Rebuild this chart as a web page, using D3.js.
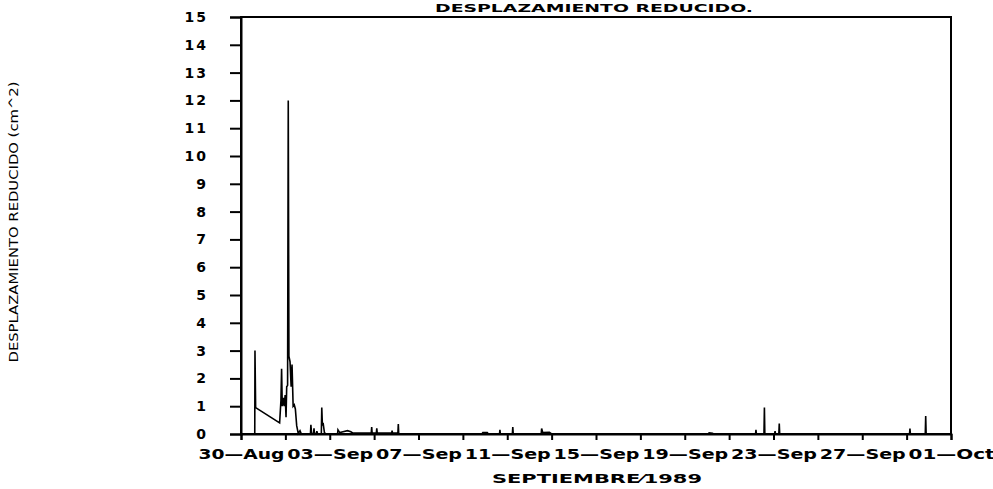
<!DOCTYPE html>
<html><head><meta charset="utf-8">
<script src="https://cdn.jsdelivr.net/npm/d3@7"></script>
<style>
body{margin:0;background:#fff;}
svg{display:block;}
</style></head>
<body>
<svg id="c" width="993" height="489"></svg>
<script>
// ---- data ----
const times = [
"1989-08-30T14:53","1989-08-30T15:07","1989-08-30T15:50",
"1989-08-31T17:46","1989-08-31T19:12","1989-08-31T19:55","1989-08-31T20:38","1989-08-31T21:50","1989-08-31T22:48","1989-08-31T23:46",
"1989-09-01T00:43","1989-09-01T01:26","1989-09-01T02:24","1989-09-01T03:07","1989-09-01T03:50","1989-09-01T05:02","1989-09-01T06:14",
"1989-09-01T07:12","1989-09-01T08:24","1989-09-01T09:36","1989-09-01T10:48","1989-09-01T12:14","1989-09-01T13:55","1989-09-01T15:50","1989-09-01T17:17",
"1989-09-02T03:07","1989-09-02T03:36","1989-09-02T04:19","1989-09-02T06:29","1989-09-02T06:58","1989-09-02T07:26","1989-09-02T09:36","1989-09-02T10:05",
"1989-09-02T10:48","1989-09-02T14:53","1989-09-02T15:22","1989-09-02T16:05","1989-09-02T16:48","1989-09-02T18:14","1989-09-02T19:55",
"1989-09-03T08:24","1989-09-03T08:53","1989-09-03T10:48","1989-09-03T14:24","1989-09-03T19:12","1989-09-03T22:48",
"1989-09-04T01:12","1989-09-04T20:53","1989-09-04T21:22","1989-09-04T21:50",
"1989-09-05T02:24","1989-09-05T02:53","1989-09-05T03:22","1989-09-05T18:58","1989-09-05T19:26","1989-09-05T19:55",
"1989-09-06T01:41","1989-09-06T02:10","1989-09-06T02:38",
"1989-09-09T20:38","1989-09-09T21:36","1989-09-10T02:24","1989-09-10T03:36","1989-09-10T15:36","1989-09-10T16:05","1989-09-10T16:34",
"1989-09-11T05:31","1989-09-11T06:00","1989-09-11T06:29",
"1989-09-12T12:43","1989-09-12T13:12","1989-09-12T14:24","1989-09-12T21:36","1989-09-13T00:00",
"1989-09-20T01:12","1989-09-20T02:24","1989-09-20T06:00","1989-09-20T07:12",
"1989-09-22T04:34","1989-09-22T05:02","1989-09-22T05:31","1989-09-22T13:41","1989-09-22T14:10","1989-09-22T14:38",
"1989-09-23T01:12","1989-09-23T01:41","1989-09-23T02:10","1989-09-23T05:46","1989-09-23T06:14","1989-09-23T06:43",
"1989-09-29T03:07","1989-09-29T03:36","1989-09-29T04:05","1989-09-29T20:10","1989-09-29T20:38","1989-09-29T21:07",
"1989-09-30T12:00"
];
const values = [
0,3.0,0.95,
0.40,1.2,2.35,1.0,1.3,1.0,1.4,
0.6,1.7,1.75,12.0,2.8,2.6,1.7,
2.5,1.0,1.05,0.9,0.3,0.02,0.12,0,
0,0.33,0.02,0.02,0.2,0.02,0.02,0.1,
0,0,0.95,0.3,0.4,0.05,0,
0,0.15,0.05,0.08,0.12,0.08,
0.03,0.03,0.25,0.03,
0.03,0.2,0.03,0.03,0.12,0.03,
0.03,0.36,0,
0,0.05,0.05,0,0,0.15,0,
0,0.25,0,
0,0.2,0.05,0.06,0,
0,0.04,0.03,0,
0,0.15,0,0,0.95,0,
0,0.1,0,0,0.38,0,
0,0.2,0,0,0.65,0,
0
];
const xTickDates = ["1989-08-30","1989-09-01","1989-09-03","1989-09-05","1989-09-07","1989-09-09","1989-09-11","1989-09-13","1989-09-15",
"1989-09-17","1989-09-19","1989-09-21","1989-09-23","1989-09-25","1989-09-27","1989-09-29","1989-10-01"];
const xLabelDates = ["1989-08-30","1989-09-03","1989-09-07","1989-09-11","1989-09-15","1989-09-19","1989-09-23","1989-09-27","1989-10-01"];
const xLabels = ["30\u2014Aug","03\u2014Sep","07\u2014Sep","11\u2014Sep","15\u2014Sep","19\u2014Sep","23\u2014Sep","27\u2014Sep","01\u2014Oct"];
const yTicks = [0,1,2,3,4,5,6,7,8,9,10,11,12,13,14,15];
const titleText = "DESPLAZAMIENTO REDUCIDO.";
const xTitle = "SEPTIEMBRE\u20441989";
const yTitle = "DESPLAZAMIENTO REDUCIDO (cm^2)";

// ---- chart ----
const parse = d3.timeParse("%Y-%m-%dT%H:%M");
const pday = d3.timeParse("%Y-%m-%d");
const data = times.map((t,i)=>({t:parse(t), v:values[i]}));
const svg = d3.select("#c");
svg.append("rect").attr("width",993).attr("height",489).attr("fill","#fff");

const L=241, R=951, T=17, B=434;
const x = d3.scaleTime().domain([pday("1989-08-30"), pday("1989-10-01")]).range([L,R]);
const y = d3.scaleLinear().domain([0,15]).range([B,T]);
const font = "'DejaVu Sans', Verdana, sans-serif";

// data line
svg.append("path").datum(data)
  .attr("fill","none").attr("stroke","#000").attr("stroke-width",1.6)
  .attr("stroke-linejoin","miter")
  .attr("d", d3.line().x(d=>x(d.t)).y(d=>y(d.v)));

// frame
svg.append("rect").attr("x",L).attr("y",T).attr("width",R-L).attr("height",B-T)
  .attr("fill","none").attr("stroke","#000").attr("stroke-width",2);

// x axis ticks
const labelMap = new Map(xLabelDates.map((d,i)=>[+pday(d), xLabels[i]]));
const xa = svg.append("g").attr("transform",`translate(0,${B})`)
  .call(d3.axisBottom(x).tickValues(xTickDates.map(pday)).tickSize(6).tickPadding(9)
    .tickFormat(d=>labelMap.get(+d)||""));
xa.select(".domain").attr("stroke","#000").attr("stroke-width",2);
xa.selectAll(".tick line").attr("stroke","#000").attr("stroke-width",2);
xa.selectAll(".tick text").attr("fill","#000")
  .style("font-family",font).style("font-weight","bold").style("font-size","14px")
  .attr("textLength", function(){ return this.textContent ? 86 : null; })
  .attr("lengthAdjust","spacingAndGlyphs");

// y axis
const ya = svg.append("g").attr("transform",`translate(${L},0)`)
  .call(d3.axisLeft(y).tickValues(yTicks).tickSize(11).tickPadding(22).tickFormat(d3.format("d")));
ya.select(".domain").attr("stroke","#000").attr("stroke-width",2);
ya.selectAll(".tick line").attr("stroke","#000").attr("stroke-width",2);
ya.selectAll(".tick text").attr("fill","#000")
  .style("font-family",font).style("font-weight","bold").style("font-size","14px")
  .style("letter-spacing","2px");

// titles
svg.append("text").attr("x",594).attr("y",12).attr("text-anchor","middle")
  .attr("textLength",318).attr("lengthAdjust","spacingAndGlyphs")
  .style("font-family",font).style("font-weight","bold").style("font-size","11px").text(titleText);
svg.append("text").attr("x",597).attr("y",483).attr("text-anchor","middle")
  .attr("textLength",210).attr("lengthAdjust","spacingAndGlyphs")
  .style("font-family",font).style("font-weight","bold").style("font-size","13px").text(xTitle);
svg.append("text").attr("transform","translate(18,222) rotate(-90)").attr("text-anchor","middle")
  .attr("textLength",281).attr("lengthAdjust","spacingAndGlyphs")
  .style("font-family",font).style("font-size","11.5px").text(yTitle);
</script>
</body></html>
